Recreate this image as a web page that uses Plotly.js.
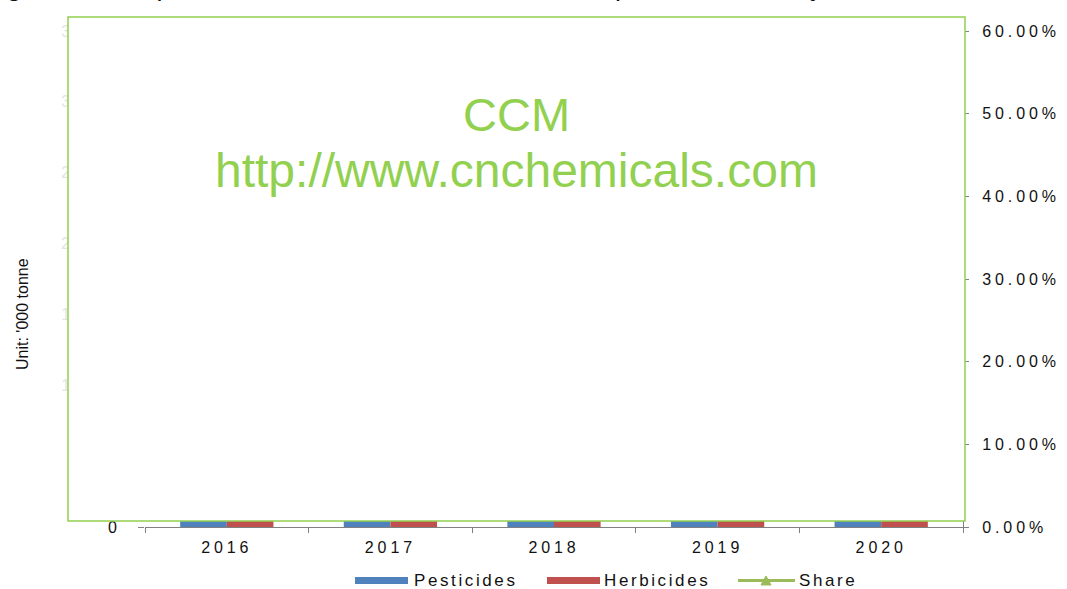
<!DOCTYPE html>
<html>
<head>
<meta charset="utf-8">
<script src="https://cdn.plot.ly/plotly-3.0.1.min.js"></script>
<style>
  html, body { margin: 0; padding: 0; background: #fff; }
  #chart { width: 1067px; height: 589px; }
  .xtick text, .y2tick text, .ytick text { letter-spacing: 3.9px; }
</style>
</head>
<body>
<div id="chart"></div>
<script>
// ---- data ----
const years = ['2016', '2017', '2018', '2019', '2020'];
const pesticides = [3279, 2941, 2083, 2254, 2147];   // '000 tonne (hidden by watermark box)
const herbicides = [1680, 1459, 1012, 1060, 1100];   // '000 tonne (hidden by watermark box)
const share = [0.512, 0.496, 0.486, 0.470, 0.512];   // herbicides share (hidden)
const leftTickVals = [0, 500, 1000, 1500, 2000, 2500, 3000, 3500];
const leftTickText = ['0', '500', '1,000', '1,500', '2,000', '2,500', '3,000', '3,500'];
const seriesNames = ['Pesticides', 'Herbicides', 'Share'];
const titleText = "Figure 1.1 Output and share of herbicides in China's pesticide industry, 2016-2020";
const yTitle = "Unit: '000 tonne";

// ---- geometry helpers (pixel -> paper) ----
const W = 1067, H = 589;
const M = {l: 145, r: 104, t: 31, b: 62};
const PW = W - M.l - M.r, PH = H - M.t - M.b;
const px = x => (x - M.l) / PW;
const py = y => (H - M.b - y) / PH;

const FAM = 'Liberation Sans, Arial, sans-serif';
const tickFont = {family: FAM, size: 16, color: '#111111'};
const blue = '#4F81BD', red = '#C0504D', green = '#9BBB59', wm = '#92D050';

const traces = [
  {type: 'bar', name: seriesNames[0], x: years, y: pesticides, marker: {color: blue}, showlegend: false},
  {type: 'bar', name: seriesNames[1], x: years, y: herbicides, marker: {color: red}, showlegend: false},
  {type: 'scatter', mode: 'lines+markers', name: seriesNames[2], x: years, y: share, yaxis: 'y2',
   line: {color: green, width: 3}, marker: {symbol: 'triangle-up', size: 9, color: green}, showlegend: false}
];

const ttext = leftTickText.map((t, i) => i === 0 ? t : '<span style="fill:#e4e4e4">' + t + '</span>');

const shapes = [
  // watermark box covering plot
  {type: 'rect', xref: 'paper', yref: 'paper', x0: px(68), x1: px(965), y0: py(521), y1: py(17),
   fillcolor: '#ffffff', line: {color: wm, width: 1.5}, layer: 'above'},
  // legend swatches
  {type: 'rect', xref: 'paper', yref: 'paper', x0: px(355), x1: px(408), y0: py(584), y1: py(577),
   fillcolor: blue, line: {width: 0}},
  {type: 'rect', xref: 'paper', yref: 'paper', x0: px(547), x1: px(600), y0: py(584), y1: py(577),
   fillcolor: red, line: {width: 0}},
  {type: 'line', xref: 'paper', yref: 'paper', x0: px(738), x1: px(795), y0: py(580.5), y1: py(580.5),
   line: {color: green, width: 3}},
  {type: 'path', xref: 'paper', yref: 'paper',
   path: 'M ' + px(761) + ' ' + py(585) + ' L ' + px(771) + ' ' + py(585) + ' L ' + px(766) + ' ' + py(576) + ' Z',
   fillcolor: green, line: {color: green, width: 1}}
];

const legFont = {family: FAM, size: 17, color: '#111111'};
const sp = t => '<span style="letter-spacing:2.6px">' + t + '</span>';
const annotations = [
  {xref: 'paper', yref: 'paper', x: px(412), y: py(580), xanchor: 'left', yanchor: 'middle',
   text: sp(seriesNames[0]), showarrow: false, font: legFont},
  {xref: 'paper', yref: 'paper', x: px(602), y: py(580), xanchor: 'left', yanchor: 'middle',
   text: sp(seriesNames[1]), showarrow: false, font: legFont},
  {xref: 'paper', yref: 'paper', x: px(797), y: py(580), xanchor: 'left', yanchor: 'middle',
   text: sp(seriesNames[2]), showarrow: false, font: legFont},
  // y-axis title
  {xref: 'paper', yref: 'paper', x: px(22), y: py(314), xanchor: 'center', yanchor: 'middle',
   text: yTitle, textangle: -90, showarrow: false, font: {family: FAM, size: 16, color: '#111111'}},
  // watermark
  {xref: 'paper', yref: 'paper', x: px(516), y: py(115), xanchor: 'center', yanchor: 'middle',
   text: 'CCM', showarrow: false, font: {family: FAM, size: 47, color: wm}},
  {xref: 'paper', yref: 'paper', x: px(516), y: py(170), xanchor: 'center', yanchor: 'middle',
   text: 'http://www.cnchemicals.com', showarrow: false, font: {family: FAM, size: 48, color: wm}},
  // cut-off title at top (only the bottoms of the glyphs show, as in the reference)
  {xref: 'paper', yref: 'paper', x: px(-18), y: py(3), xanchor: 'left', yanchor: 'bottom',
   text: titleText, showarrow: false, font: {family: FAM, size: 27, color: '#111'}}
];

const layout = {
  width: W, height: H,
  margin: M,
  paper_bgcolor: '#ffffff', plot_bgcolor: '#ffffff',
  showlegend: false,
  barmode: 'group', bargap: 0.43, bargroupgap: 0,
  xaxis: {
    type: 'category', tickson: 'boundaries', ticks: 'outside', ticklen: 5, tickcolor: '#808080',
    showline: true, linecolor: '#808080', linewidth: 1, showgrid: false, zeroline: false,
    tickfont: tickFont, ticklabelstandoff: 6
  },
  yaxis: {
    range: [0, 3500], tickvals: leftTickVals, ticktext: ttext, ticks: 'outside', ticklen: 6,
    tickcolor: '#808080', showline: false, showgrid: false, zeroline: false,
    tickfont: tickFont, ticklabelstandoff: 14
  },
  yaxis2: {
    overlaying: 'y', side: 'right', range: [0, 0.6], dtick: 0.1, tickformat: '.2%',
    ticks: 'outside', ticklen: 5, tickcolor: '#808080', showline: true, linecolor: '#808080',
    showgrid: false, zeroline: false, tickfont: tickFont, ticklabelstandoff: 10
  },
  shapes: shapes,
  annotations: annotations
};

Plotly.newPlot('chart', traces, layout, {displayModeBar: false, staticPlot: true});
</script>
</body>
</html>
